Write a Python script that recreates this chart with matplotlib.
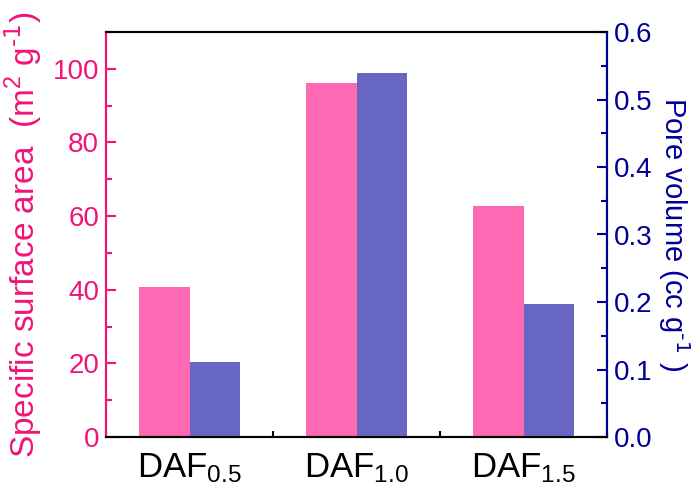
import numpy as np
import matplotlib
matplotlib.use("Agg")
import matplotlib.pyplot as plt
from matplotlib.ticker import MultipleLocator

plt.rcParams["font.family"] = ["Liberation Sans", "DejaVu Sans"]
plt.rcParams["mathtext.default"] = "regular"

# data
samples = ["DAF$_{0.5}$", "DAF$_{1.0}$", "DAF$_{1.5}$"]
surface_area = [40.8, 96.2, 62.7]      # m2 g-1
pore_volume = [0.111, 0.540, 0.197]    # cc g-1

pink = "#FF69B4"
blue = "#6767C3"
left_col = "#F01478"
right_col = "#000099"

x = np.arange(1, len(samples) + 1)
w = 0.3

fig = plt.figure(figsize=(7, 4.9), dpi=100)
ax = fig.add_axes([106 / 700, 1 - 437 / 490, 501 / 700, 405 / 490])
ax2 = ax.twinx()

ax.bar(x - w / 2, surface_area, width=w, color=pink, zorder=2)
ax2.bar(x + w / 2, pore_volume, width=w, color=blue, zorder=2)

ax.set_xlim(0.5, 3.5)
ax.set_ylim(0, 110)
ax2.set_ylim(0, 0.6)

ax.set_xticks(x)
ax.set_xticklabels(samples, fontsize=25)
ax.xaxis.set_minor_locator(MultipleLocator(0.5))
ax.yaxis.set_major_locator(MultipleLocator(20))
ax.yaxis.set_minor_locator(MultipleLocator(10))
ax2.yaxis.set_minor_locator(MultipleLocator(0.05))
ax2.set_yticks(np.arange(0, 0.61, 0.1))
ax2.set_yticklabels([f"{v:.1f}" for v in np.arange(0, 0.61, 0.1)])

ax.tick_params(axis="x", which="both", direction="in", top=False, width=1.5,
               colors="black", pad=10)
ax.tick_params(axis="x", which="major", length=7)
ax.tick_params(axis="x", which="minor", length=4)
ax.tick_params(axis="y", which="both", direction="in", width=1.5,
               colors=left_col, labelsize=20, pad=5)
ax.tick_params(axis="y", which="major", length=7)
ax.tick_params(axis="y", which="minor", length=4)
ax2.tick_params(axis="y", which="both", direction="in", width=1.5,
                colors=right_col, labelsize=20, pad=5)
ax2.tick_params(axis="y", which="major", length=7)
ax2.tick_params(axis="y", which="minor", length=4)

for a in (ax, ax2):
    for s in a.spines.values():
        s.set_linewidth(1.5)
ax2.spines["left"].set_color(left_col)
ax2.spines["right"].set_color(right_col)
ax2.spines["top"].set_color("black")
ax2.spines["bottom"].set_color("black")
ax.spines["left"].set_color(left_col)

ax.set_ylabel(r"Specific surface area  (m$^2$ g$^{\text{-1}}$)", fontsize=24,
              color=left_col, labelpad=6)
ax2.set_ylabel(r"Pore volume (cc g$^{\text{-1}}$ )", fontsize=21,
               color=right_col, rotation=270, labelpad=28)

fig.savefig("out.png", dpi=100)
